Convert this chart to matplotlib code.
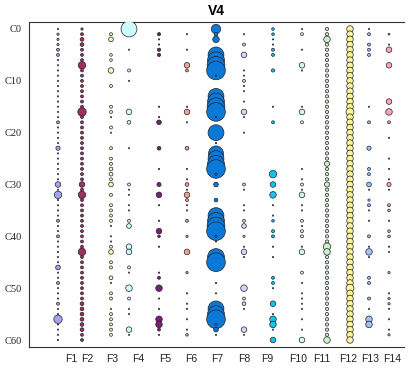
import numpy as np
import matplotlib
matplotlib.use("Agg")
import matplotlib.pyplot as plt

# ---------------- data ----------------
rows = [f"C{i}" for i in range(61)]
ytick_rows = [0, 10, 20, 30, 40, 50, 60]
ytick_labels = ["C0", "C10", "C20", "C30", "C40", "C50", "C60"]
columns = ["F1", "F2", "F3", "F4", "F5", "F6", "F7", "F8", "F9", "F10", "F11", "F12", "F13", "F14"]

F1 = [2, 6, 6, 6, 10, 10, 2, 2, 2, 2,
      2, 2, 2, 2, 2, 2, 2, 2, 10, 2,
      2, 2, 2, 20, 2, 2, 2, 2, 2, 2,
      36, 2, 64, 2, 2, 2, 2, 10, 2, 2,
      10, 2, 2, 2, 2, 2, 25, 2, 2, 10,
      2, 2, 2, 10, 2, 2, 81, 2, 2, 2,
      2]
F2 = [6, 10, 16, 16, 10, 10, 10, 64, 10, 10,
      10, 10, 10, 10, 10, 10, 81, 10, 10, 10,
      10, 10, 10, 10, 10, 10, 10, 10, 10, 10,
      36, 10, 64, 10, 10, 10, 10, 10, 10, 10,
      10, 10, 10, 64, 10, 10, 10, 10, 10, 10,
      10, 10, 10, 16, 16, 16, 16, 16, 16, 10,
      10]
F3 = [0, 10, 25, 0, 0, 8, 8, 0, 36, 0,
      0, 10, 0, 0, 0, 10, 10, 2, 0, 10,
      2, 0, 0, 10, 0, 10, 10, 16, 16, 10,
      25, 0, 10, 0, 10, 10, 10, 10, 2, 0,
      2, 2, 10, 25, 0, 10, 10, 0, 16, 2,
      0, 10, 10, 0, 2, 10, 10, 10, 10, 10,
      0]
F4 = [289, 0, 0, 0, 2, 0, 0, 0, 10, 0,
      2, 0, 0, 0, 0, 0, 36, 0, 16, 0,
      0, 0, 0, 2, 0, 0, 0, 0, 0, 0,
      10, 2, 2, 0, 2, 2, 0, 10, 25, 0,
      0, 0, 36, 36, 0, 0, 10, 2, 0, 0,
      49, 0, 10, 0, 2, 2, 0, 0, 36, 2,
      0]
F5 = [0, 12, 2, 2, 12, 12, 0, 0, 0, 0,
      0, 0, 0, 0, 0, 2, 0, 2, 25, 0,
      0, 0, 0, 16, 0, 0, 0, 2, 0, 0,
      20, 0, 36, 0, 2, 0, 0, 2, 0, 36,
      8, 0, 2, 0, 0, 0, 0, 2, 10, 0,
      49, 0, 2, 0, 2, 0, 49, 49, 10, 2,
      0]
F6 = [0, 2, 0, 0, 2, 0, 0, 36, 10, 0,
      0, 0, 0, 0, 0, 2, 36, 0, 2, 0,
      0, 0, 0, 16, 0, 0, 0, 2, 0, 2,
      16, 2, 36, 10, 2, 2, 0, 10, 0, 0,
      6, 0, 0, 36, 0, 0, 0, 6, 0, 0,
      0, 2, 0, 2, 2, 0, 2, 0, 2, 8,
      0]
F7 = [100, 16, 49, 0, 0, 289, 324, 361, 400, 2,
      0, 0, 0, 289, 324, 361, 400, 2, 0, 0,
      289, 0, 2, 0, 256, 289, 324, 400, 6, 0,
      25, 0, 0, 16, 0, 0, 289, 324, 361, 400,
      6, 2, 0, 36, 324, 400, 0, 0, 0, 2,
      0, 2, 0, 0, 289, 324, 400, 6, 25, 2,
      0]
F8 = [0, 2, 0, 10, 0, 36, 0, 0, 2, 2,
      10, 2, 2, 0, 2, 0, 36, 2, 0, 0,
      2, 0, 0, 0, 0, 0, 0, 0, 0, 0,
      10, 2, 0, 0, 2, 2, 0, 10, 25, 0,
      6, 0, 2, 36, 2, 0, 0, 0, 0, 0,
      49, 0, 10, 16, 2, 0, 0, 0, 36, 2,
      0]
F9 = [8, 8, 2, 2, 10, 10, 0, 0, 12, 0,
      0, 0, 0, 0, 0, 2, 0, 0, 10, 0,
      0, 0, 0, 0, 0, 0, 0, 0, 64, 0,
      36, 0, 49, 0, 2, 0, 2, 8, 0, 10,
      10, 0, 2, 0, 2, 0, 0, 0, 10, 10,
      2, 0, 0, 36, 0, 2, 49, 49, 2, 0,
      36]
F10 = [2, 10, 0, 0, 2, 0, 0, 36, 2, 0,
       0, 0, 0, 0, 0, 2, 36, 0, 10, 0,
       0, 0, 0, 0, 0, 0, 0, 2, 0, 2,
       10, 2, 36, 0, 2, 2, 0, 10, 2, 10,
       10, 0, 2, 36, 0, 0, 0, 10, 0, 2,
       0, 2, 2, 2, 2, 0, 2, 0, 2, 0,
       36]
F11 = [12, 12, 49, 12, 12, 12, 12, 12, 12, 12,
       12, 12, 12, 12, 12, 12, 12, 12, 12, 12,
       12, 12, 12, 12, 12, 12, 30, 12, 12, 12,
       30, 12, 12, 12, 12, 12, 12, 12, 12, 12,
       12, 12, 64, 49, 12, 12, 12, 12, 12, 12,
       12, 12, 12, 12, 12, 12, 12, 12, 12, 12,
       49]
F12 = [49, 49, 49, 49, 49, 49, 49, 49, 49, 49,
       49, 49, 49, 49, 49, 49, 72, 49, 49, 49,
       49, 49, 49, 49, 49, 49, 49, 49, 49, 49,
       49, 49, 49, 49, 49, 49, 49, 49, 49, 49,
       49, 49, 49, 49, 49, 49, 49, 49, 49, 49,
       72, 49, 49, 49, 49, 49, 49, 49, 49, 49,
       49]
F13 = [2, 10, 0, 10, 10, 10, 0, 0, 0, 0,
       0, 0, 0, 0, 0, 2, 0, 0, 10, 0,
       0, 0, 0, 20, 0, 0, 0, 10, 10, 0,
       25, 2, 0, 6, 10, 2, 0, 2, 0, 0,
       10, 0, 2, 49, 2, 0, 0, 0, 10, 10,
       0, 0, 10, 0, 2, 0, 49, 49, 0, 0,
       0]
F14 = [0, 4, 0, 2, 36, 0, 0, 36, 0, 0,
       0, 0, 0, 0, 36, 0, 49, 0, 10, 0,
       0, 2, 0, 0, 0, 2, 0, 2, 0, 2,
       20, 2, 0, 0, 10, 8, 0, 2, 0, 8,
       8, 0, 2, 2, 0, 0, 0, 6, 0, 0,
       0, 2, 6, 6, 2, 0, 2, 0, 2, 6,
       0]

series = [F1, F2, F3, F4, F5, F6, F7, F8, F9, F10, F11, F12, F13, F14]

# ---------------- layout / style ----------------
col_x = [58, 82, 111, 129, 159, 187, 216, 244, 273, 302, 327, 350, 369, 389]
label_x = [71, 87, 112, 138, 165, 191, 217, 244, 267, 298, 322, 348, 370, 392]
colors = ["#a3a3f2", "#9e2f62", "#fdf7b4", "#ccfbfb", "#7b1e7b", "#f4a096",
          "#0a78d6", "#d4d4fc", "#10c4ee", "#d2f6f6", "#ccf0cc", "#fbf59d",
          "#a3c2f0", "#f7a2cc"]
size_scale = 0.45

W, H = 409, 368
fig = plt.figure(figsize=(W / 100, H / 100), dpi=100)
ax = fig.add_axes([29 / W, 1 - 347 / H, (404 - 29) / W, (347 - 22) / H])

row_idx = np.arange(len(rows))
for x, vals, c in zip(col_x, series, colors):
    v = np.array(vals, dtype=float)
    m = v > 0
    ax.scatter(np.full(m.sum(), x), row_idx[m], s=v[m] * size_scale, c=c,
               edgecolors="#222222", linewidths=0.5, zorder=3)

ax.set_xlim(29, 404)
ax.set_ylim(61.35, -1.35)

ax.set_yticks(ytick_rows)
ax.set_yticklabels(ytick_labels, fontfamily="Liberation Serif", fontsize=7.5)
ax.set_xticks(label_x)
ax.set_xticklabels(columns, fontfamily="Liberation Sans", fontsize=7.5)
ax.tick_params(length=0, pad=5, colors="#222222")

for side in ["top", "left", "bottom"]:
    ax.spines[side].set_color("#333333")
    ax.spines[side].set_linewidth(0.8)
ax.spines["right"].set_visible(False)

fig.text((29 + 404) / 2 / W, 1 - 11 / H, "V4", ha="center", va="center",
         fontfamily="Liberation Sans", fontweight="bold", fontsize=10)

fig.savefig("out.png", dpi=100)
